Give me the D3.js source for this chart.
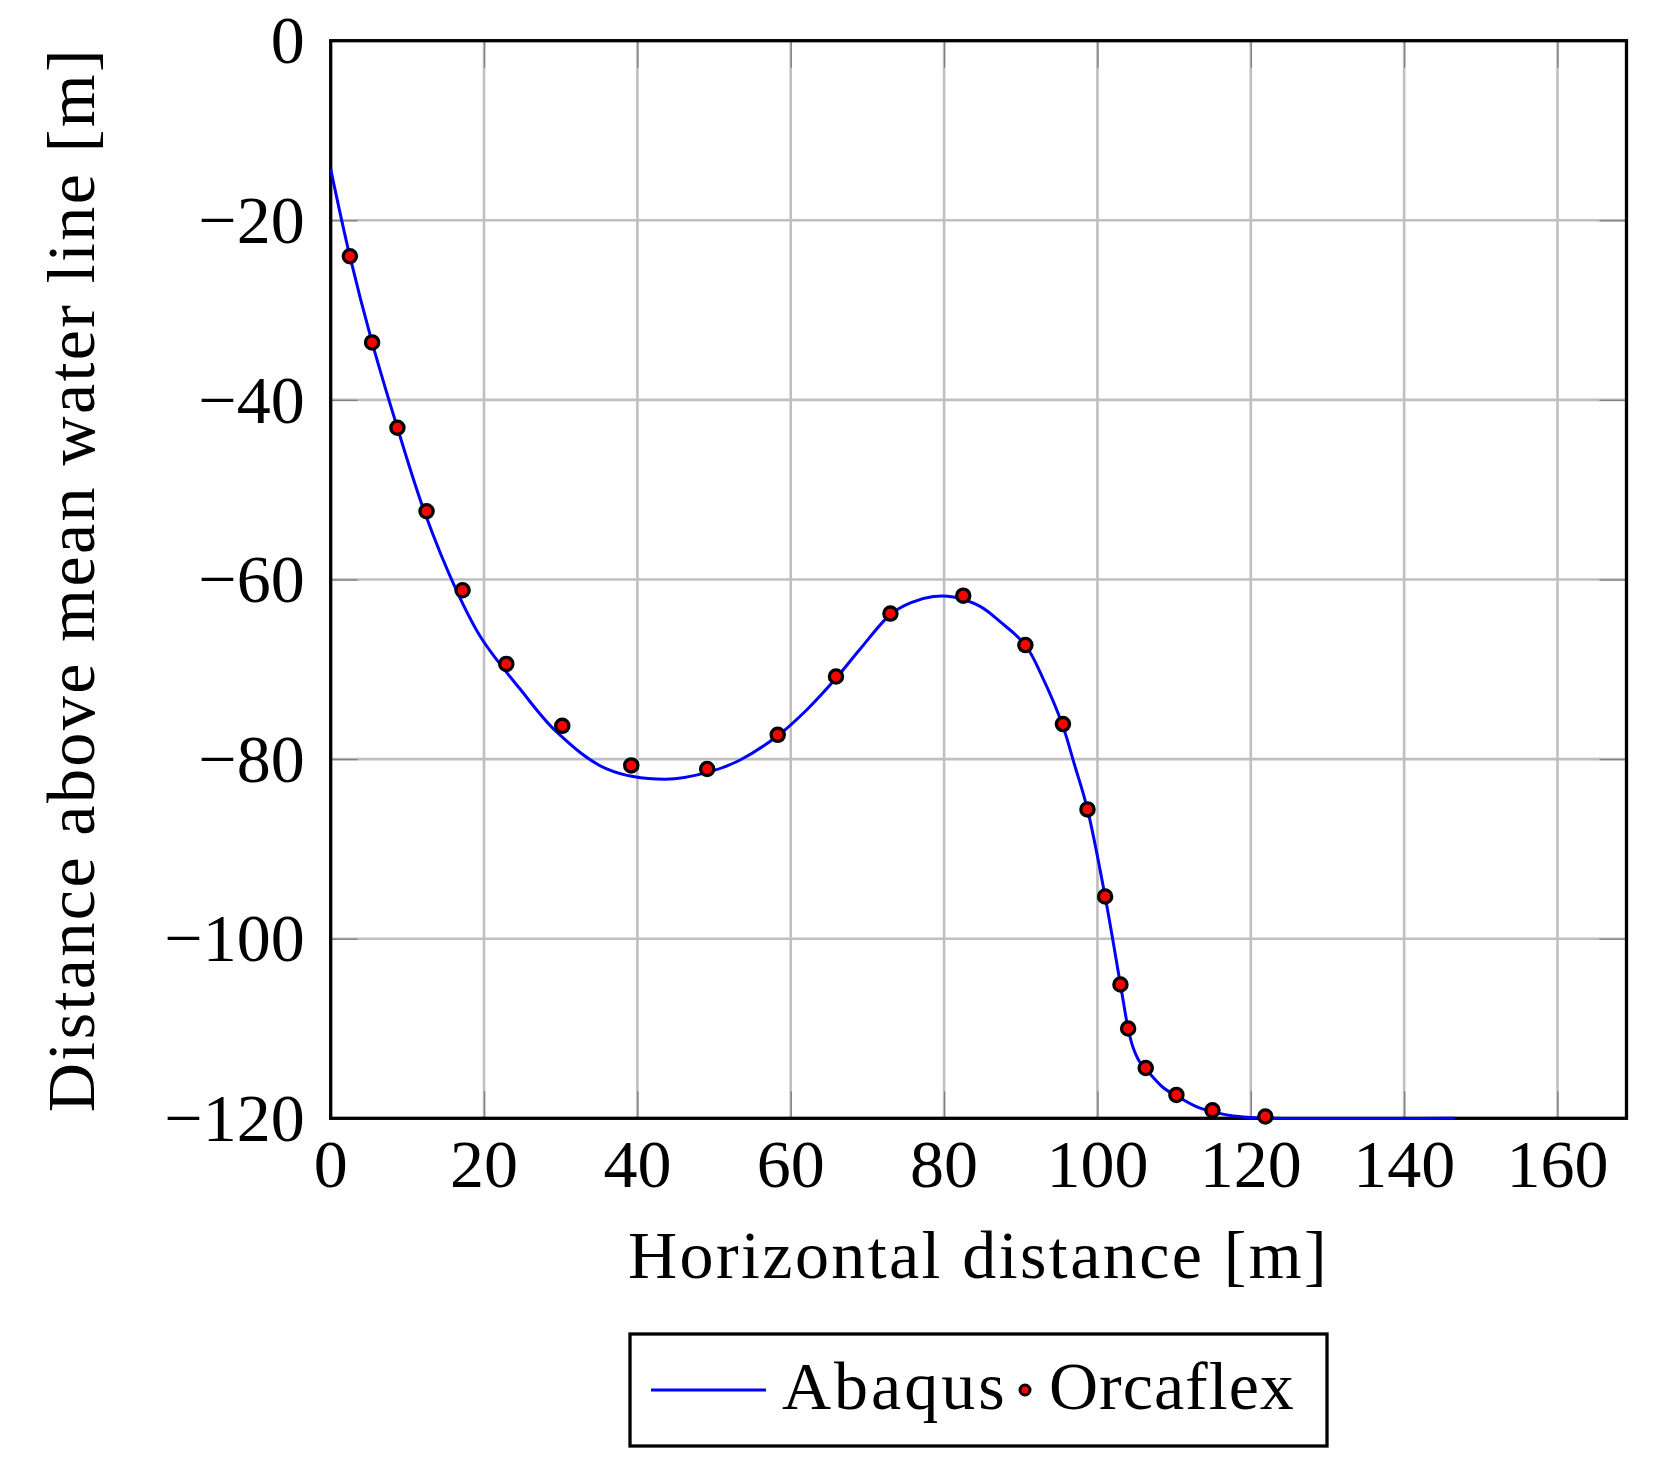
<!DOCTYPE html>
<html>
<head>
<meta charset="utf-8">
<script src="https://cdn.jsdelivr.net/npm/d3@7"></script>
<style>
  body { margin: 0; background: #ffffff; }
  text { font-family: "Liberation Serif", "Times New Roman", serif; fill: #000; }
</style>
</head>
<body>
<div id="chart"></div>
<script>
// Abaqus profile (solid blue line)
const abaqusX = [0, 2.5, 5.4, 8.7, 12.2, 16.4, 19.7, 24.7, 29.5, 36.0, 43.6, 49.5, 53.4,
    58.3, 62.1, 65.9, 69.0, 73.0, 75.6, 78.6, 81.2, 84.7, 87.3, 90.6, 93.0, 95.4, 97.0, 98.7,
    101.0, 103.0, 104.0, 104.6, 105.5, 106.3, 108.6, 110.3, 112.9, 115.6, 117.7, 120.0, 123.0, 146.6]
const abaqusY = [-14.3, -24.0, -33.6, -43.1, -52.4, -61.2, -66.6, -72.2, -77.0, -81.1, -82.25, -81.4, -80.1,
    -77.4, -74.5, -71.0, -67.8, -63.9, -62.6, -61.9, -61.95, -63.0, -64.7, -67.3, -71.2, -76.1, -80.6, -85.6,
    -95.3, -105.1, -110.0, -112.0, -113.7, -114.5, -116.6, -117.5, -118.7, -119.4, -119.75, -119.9, -120.0, -120.0]

// Orcaflex nodes (red markers)
const orcaflexX = [2.5, 5.4, 8.7, 12.5, 17.2, 22.9, 30.2, 39.2, 49.1, 58.3, 65.9, 73.0,
    82.5, 90.6, 95.5, 98.7, 101.0, 103.0, 104.0, 106.3, 110.3, 115.0, 121.9]
const orcaflexY = [-24.0, -33.6, -43.1, -52.4, -61.2, -69.4, -76.3, -80.7, -81.1, -77.3, -70.8, -63.8,
    -61.8, -67.3, -76.1, -85.6, -95.3, -105.1, -110.0, -114.4, -117.4, -119.1, -119.8]

const xTicks = [0, 20, 40, 60, 80, 100, 120, 140, 160]
const yTicks = [0, -20, -40, -60, -80, -100, -120]
const xDomain = [0, 169]
const yDomain = [-120, 0]

const seriesNames = ["Abaqus", "Orcaflex"]
const xLabel = "Horizontal distance [m]"
const yLabel = "Distance above mean water line [m]"

class ProfileChart {
    constructor(selector) {
        this.selector = selector
        this.width = 1663
        this.height = 1480
        this.margin = {top: 40.7, right: 36.5, bottom: 361.7, left: 330.7}
        this.fontSize = 68
        this.letterSpacing = 2.4
        this.innerW = this.width - this.margin.left - this.margin.right
        this.innerH = this.height - this.margin.top - this.margin.bottom
    }

    draw() {
        this.x = d3.scaleLinear().domain(xDomain).range([this.margin.left, this.margin.left + this.innerW])
        this.y = d3.scaleLinear().domain(yDomain).range([this.margin.top + this.innerH, this.margin.top])

        this.createSVG()
        this.drawGrid()
        this.drawAxes()
        this.drawLine()
        this.drawMarkers()
        this.drawLabels()
        this.drawLegend()
    }

    createSVG() {
        this.svg = d3.select(this.selector)
            .append("svg")
            .attr("width", this.width)
            .attr("height", this.height)
    }

    drawGrid() {
        let g = this.svg.append("g").attr("class", "grid")
        let [x0, x1] = this.x.range()
        let [y1, y0] = this.y.range()

        g.selectAll(".vgrid")
            .data(xTicks)
            .enter()
            .append("line")
            .attr("x1", d => this.x(d)).attr("x2", d => this.x(d))
            .attr("y1", y0).attr("y2", y1)
            .attr("stroke", "#bfbfbf")
            .attr("stroke-width", 2.6)

        g.selectAll(".hgrid")
            .data(yTicks)
            .enter()
            .append("line")
            .attr("x1", x0).attr("x2", x1)
            .attr("y1", d => this.y(d)).attr("y2", d => this.y(d))
            .attr("stroke", "#bfbfbf")
            .attr("stroke-width", 2.6)
    }

    drawAxes() {
        let fs = this.fontSize
        let tickLen = 27
        let [x0, x1] = this.x.range()
        let [y1, y0] = this.y.range()

        // small inward ticks on all four sides
        let bottom = d3.axisBottom(this.x).tickValues(xTicks).tickSize(-tickLen).tickFormat("")
        let top = d3.axisTop(this.x).tickValues(xTicks).tickSize(-tickLen).tickFormat("")
        let left = d3.axisLeft(this.y).tickValues(yTicks).tickSize(-tickLen).tickFormat("")
        let right = d3.axisRight(this.y).tickValues(yTicks).tickSize(-tickLen).tickFormat("")

        let gb = this.svg.append("g").attr("transform", `translate(0,${y1})`).call(bottom)
        let gt = this.svg.append("g").attr("transform", `translate(0,${y0})`).call(top)
        let gl = this.svg.append("g").attr("transform", `translate(${x0},0)`).call(left)
        let gr = this.svg.append("g").attr("transform", `translate(${x1},0)`).call(right)
        for (let g of [gb, gt, gl, gr]) {
            g.select(".domain").remove()
            g.selectAll(".tick line").attr("stroke", "#808080").attr("stroke-width", 1.3)
        }

        // tick labels
        this.svg.append("g")
            .selectAll("text")
            .data(xTicks)
            .enter()
            .append("text")
            .attr("x", d => this.x(d))
            .attr("y", y1 + 69)
            .attr("text-anchor", "middle")
            .style("font-size", fs + "px")
            .text(d => d)

        this.svg.append("g")
            .selectAll("text")
            .data(yTicks)
            .enter()
            .append("text")
            .attr("x", x0 - 26)
            .attr("y", d => this.y(d) + 0.335 * fs)
            .attr("text-anchor", "end")
            .style("font-size", fs + "px")
            .text(d => d < 0 ? "\u2212" + Math.abs(d) : d)

        // frame
        this.svg.append("rect")
            .attr("x", x0).attr("y", y0)
            .attr("width", x1 - x0).attr("height", y1 - y0)
            .attr("fill", "none")
            .attr("stroke", "#000")
            .attr("stroke-width", 3.3)
    }

    drawLine() {
        let data = d3.zip(abaqusX, abaqusY)
        let lineGen = d3.line()
            .x(d => this.x(d[0]))
            .y(d => this.y(d[1]))
            .curve(d3.curveCatmullRom.alpha(0.5))

        this.svg.append("path")
            .datum(data)
            .attr("d", lineGen)
            .attr("fill", "none")
            .attr("stroke", "#0000ff")
            .attr("stroke-width", 3)
    }

    drawMarkers() {
        let data = d3.zip(orcaflexX, orcaflexY)
        this.svg.append("g")
            .selectAll("circle")
            .data(data)
            .enter()
            .append("circle")
            .attr("cx", d => this.x(d[0]))
            .attr("cy", d => this.y(d[1]))
            .attr("r", 6.6)
            .attr("fill", "#ff0000")
            .attr("stroke", "#000")
            .attr("stroke-width", 3.3)
    }

    drawLabels() {
        let fs = this.fontSize
        let [x0, x1] = this.x.range()
        let [y1, y0] = this.y.range()

        this.svg.append("text")
            .attr("x", (x0 + x1) / 2)
            .attr("y", 1278)
            .attr("text-anchor", "middle")
            .style("font-size", fs + "px")
            .style("letter-spacing", this.letterSpacing + "px")
            .text(xLabel)

        this.svg.append("text")
            .attr("transform", `translate(94,${(y0 + y1) / 2}) rotate(-90)`)
            .attr("text-anchor", "middle")
            .style("font-size", fs + "px")
            .style("letter-spacing", this.letterSpacing + "px")
            .text(yLabel)
    }

    drawLegend() {
        let fs = this.fontSize
        let g = this.svg.append("g").attr("class", "legend")

        g.append("rect")
            .attr("x", 630).attr("y", 1334)
            .attr("width", 697).attr("height", 112)
            .attr("fill", "#fff")
            .attr("stroke", "#000")
            .attr("stroke-width", 3.3)

        g.append("line")
            .attr("x1", 651).attr("x2", 766)
            .attr("y1", 1390).attr("y2", 1390)
            .attr("stroke", "#0000ff")
            .attr("stroke-width", 3)

        g.append("text")
            .attr("x", 782).attr("y", 1409)
            .style("font-size", fs + "px")
            .style("letter-spacing", "3px")
            .text(seriesNames[0])

        g.append("circle")
            .attr("cx", 1025).attr("cy", 1390)
            .attr("r", 5)
            .attr("fill", "#ff0000")
            .attr("stroke", "#000")
            .attr("stroke-width", 3)

        g.append("text")
            .attr("x", 1049).attr("y", 1409)
            .style("font-size", fs + "px")
            .style("letter-spacing", "1px")
            .text(seriesNames[1])
    }
}

new ProfileChart("#chart").draw()
</script>
</body>
</html>
